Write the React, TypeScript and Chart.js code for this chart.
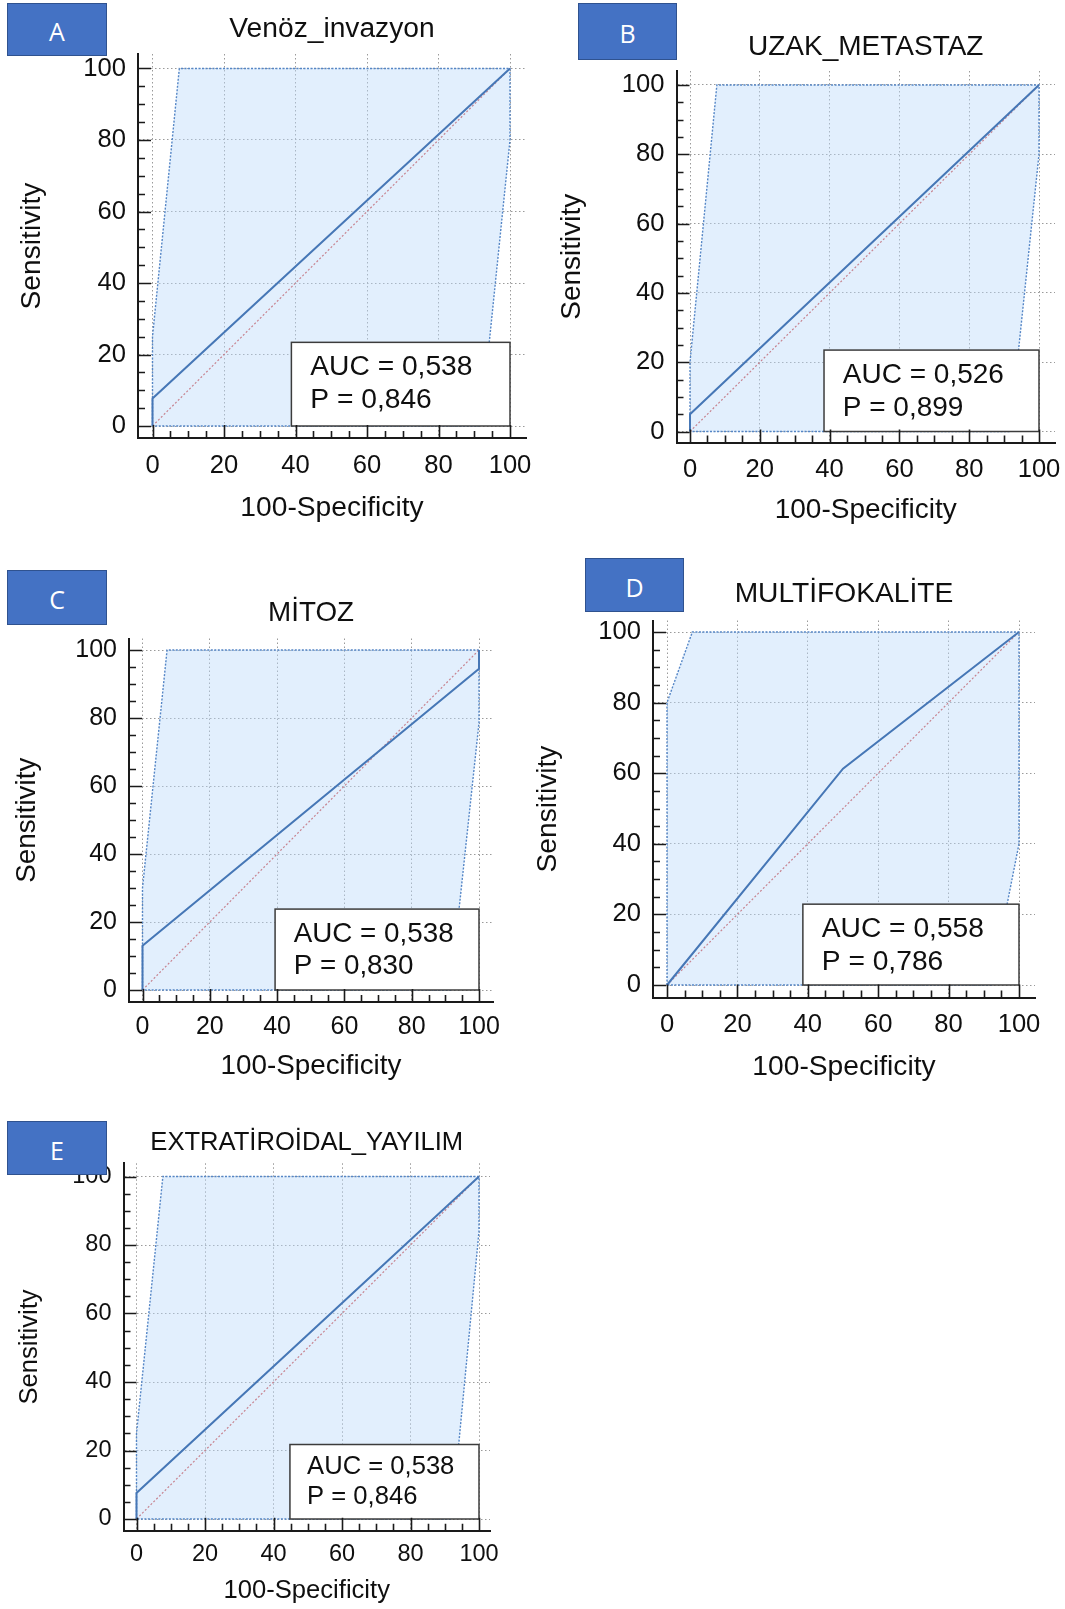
import React, { useEffect, useRef } from 'react';
import { Chart, registerables } from 'chart.js';

Chart.register(...registerables);

// ---------- data ----------
const xTickValues = [0, 20, 40, 60, 80, 100];
const yTickValues = [0, 20, 40, 60, 80, 100];
const xAxisTitle = '100-Specificity';
const yAxisTitle = 'Sensitivity';

const panelLetters = ['A', 'B', 'C', 'D', 'E'];
const panelTitles = ['Venöz_invazyon', 'UZAK_METASTAZ', 'MİTOZ', 'MULTİFOKALİTE', 'EXTRATİROİDAL_YAYILIM'];
const aucValues = ['0,538', '0,526', '0,538', '0,558', '0,538'];
const pValues = ['0,846', '0,899', '0,830', '0,786', '0,846'];

// ROC curves (x = 100-Specificity, y = Sensitivity)
const rocA_x = [0, 0, 100];
const rocA_y = [0, 7.7, 100];
const rocB_x = [0, 0, 100];
const rocB_y = [0, 5, 100];
const rocC_x = [0, 0, 100, 100];
const rocC_y = [0, 13, 94.5, 100];
const rocD_x = [0, 50, 100];
const rocD_y = [0, 61.3, 100];
const rocE_x = [0, 0, 100];
const rocE_y = [0, 7.6, 100];

// 95% confidence bands (closed outline: upper bound, then lower bound back)
const ciA_x = [0, 0, 7.5, 100, 100, 91.8, 0];
const ciA_y = [0, 25, 100, 100, 80, 0, 0];
const ciB_x = [0, 0, 7.7, 100, 100, 91.7, 0];
const ciB_y = [0, 20, 100, 100, 80, 0, 0];
const ciC_x = [0, 0, 7.3, 100, 100, 91.5, 0];
const ciC_y = [0, 30, 100, 100, 78.6, 0, 0];
const ciD_x = [0, 0, 7.2, 100, 100, 92.1, 0];
const ciD_y = [0, 80, 100, 100, 40, 0, 0];
const ciE_x = [0, 0, 7.7, 100, 100, 92, 0];
const ciE_y = [0, 25, 100, 100, 84, 0, 0];

// reference diagonal
const diagX = [0, 100];
const diagY = [0, 100];

// ---------- layout (pixels on page) ----------
type Lay = {
  L: number; T: number; R: number; B: number;
  x0: number; x100: number; y0: number; y100: number;
  titleY: number; yTitleX: number; xTitleY: number; xPad: number;
  fs: number; ts: number; boxLeft: number; boxTop: number;
  tag: { left: number; top: number; w: number; h: number };
};

const layouts: Lay[] = [
  { L: 138, T: 54, R: 526, B: 438, x0: 152.5, x100: 510, y0: 426, y100: 68.5, titleY: 29, yTitleX: 32, xTitleY: 508, xPad: 12.5, fs: 25.6, ts: 28.2, boxLeft: 38.85, boxTop: 23.4, tag: { left: 7, top: 3, w: 100, h: 53 } },
  { L: 676.5, T: 71, R: 1055, B: 442.5, x0: 690, x100: 1039, y0: 431.5, y100: 85, titleY: 47, yTitleX: 572, xTitleY: 510, xPad: 12.5, fs: 25.6, ts: 28, boxLeft: 38.4, boxTop: 23.5, tag: { left: 578, top: 3, w: 99, h: 57 } },
  { L: 129, T: 638.5, R: 493, B: 1002, x0: 142.5, x100: 479, y0: 990, y100: 650, titleY: 613.5, yTitleX: 28.5, xTitleY: 1066.5, xPad: 10.5, fs: 25, ts: 27.8, boxLeft: 39.4, boxTop: 23.8, tag: { left: 7, top: 570, w: 100, h: 55 } },
  { L: 653, T: 620.5, R: 1035, B: 997.5, x0: 667, x100: 1019, y0: 985, y100: 632, titleY: 594.5, yTitleX: 548.5, xTitleY: 1067, xPad: 12.5, fs: 25.6, ts: 28.2, boxLeft: 38.6, boxTop: 22.9, tag: { left: 585, top: 558, w: 99, h: 54 } },
  { L: 123.5, T: 1163.3, R: 490, B: 1530.7, x0: 136.5, x100: 479, y0: 1519, y100: 1176.5, titleY: 1143, yTitleX: 31, xTitleY: 1591, xPad: 9.5, fs: 23.5, ts: 25.6, boxLeft: 44.8, boxTop: 21.75, tag: { left: 7, top: 1121, w: 100, h: 54 } },
];

const rocXs = [rocA_x, rocB_x, rocC_x, rocD_x, rocE_x];
const rocYs = [rocA_y, rocB_y, rocC_y, rocD_y, rocE_y];
const ciXs = [ciA_x, ciB_x, ciC_x, ciD_x, ciE_x];
const ciYs = [ciA_y, ciB_y, ciC_y, ciD_y, ciE_y];

const FAMILY = '"Liberation Sans", Arial, Helvetica, sans-serif';
const TEXT = '#0f0f0f';

const pts = (xs: number[], ys: number[]) => xs.map((x, i) => ({ x, y: ys[i] }));

function RocPanel({ idx }: { idx: number }) {
  const ref = useRef<HTMLCanvasElement | null>(null);
  const lay = layouts[idx];
  const lhT = lay.ts * 1.2;
  const cx = Math.floor(lay.yTitleX - 4 - lhT / 2);
  const cy = Math.floor(lay.titleY - lhT / 2 - 2);
  const W = lay.L - cx;
  const pt = lay.titleY - lhT / 2 - cy;
  const pb = lay.T - cy - pt - lhT;
  const H = lay.xTitleY + lhT / 2 + 4 - lay.B;
  const pr = 24;
  const ch = Math.ceil(lay.B + H - cy) + 1;
  const cw = Math.ceil(lay.R + pr - cx);
  const padBottom = ch - (lay.B + H - cy);
  const padRight = cw - (lay.R - cx);
  const ux = (lay.x100 - lay.x0) / 100;
  const uy = (lay.y0 - lay.y100) / 100;
  const xmin = (lay.L - lay.x0) / ux;
  const xmax = (lay.R - lay.x0) / ux;
  const ymin = -(lay.B - lay.y0) / uy;
  const ymax = (lay.y0 - lay.T) / uy;

  useEffect(() => {
    if (!ref.current) return;
    const decor = {
      id: 'decor' + idx,
      afterDatasetsDraw(chart: any) {
        const { ctx, chartArea, scales } = chart;
        const x = scales.x;
        const y = scales.y;
        ctx.save();
        // AUC box
        const bx0 = x.getPixelForValue(lay.boxLeft);
        const bx1 = x.getPixelForValue(100);
        const by0 = y.getPixelForValue(lay.boxTop);
        const by1 = y.getPixelForValue(0);
        ctx.fillStyle = '#ffffff';
        ctx.fillRect(bx0, by0, bx1 - bx0, by1 - by0);
        ctx.strokeStyle = '#3c3c3c';
        ctx.lineWidth = 1.5;
        ctx.strokeRect(bx0, by0, bx1 - bx0, by1 - by0);
        ctx.fillStyle = TEXT;
        ctx.font = `${lay.ts}px ${FAMILY}`;
        ctx.textAlign = 'left';
        ctx.textBaseline = 'alphabetic';
        ctx.fillText('AUC = ' + aucValues[idx], bx0 + 0.67 * lay.ts, by0 + 1.17 * lay.ts);
        ctx.fillText('P = ' + pValues[idx], bx0 + 0.67 * lay.ts, by0 + 2.34 * lay.ts);
        // inward tick marks (major every 20, minor every 5)
        ctx.strokeStyle = '#1a1a1a';
        ctx.lineWidth = 1.6;
        ctx.beginPath();
        for (let v = 0; v <= 100; v += 5) {
          const len = v % 20 === 0 ? 13 : 7;
          const py = Math.round(y.getPixelForValue(v)) + 0.5;
          ctx.moveTo(chartArea.left, py);
          ctx.lineTo(chartArea.left + len, py);
          const px = Math.round(x.getPixelForValue(v)) + 0.5;
          ctx.moveTo(px, chartArea.bottom);
          ctx.lineTo(px, chartArea.bottom - len);
        }
        ctx.stroke();
        ctx.restore();
      },
    };

    const chart = new Chart(ref.current, {
      type: 'line',
      data: {
        datasets: [
          {
            data: pts(rocXs[idx], rocYs[idx]),
            borderColor: '#4677B6',
            borderWidth: 2,
            pointRadius: 0,
            fill: false,
            tension: 0,
            order: 1,
          },
          {
            data: pts(diagX, diagY),
            borderColor: 'rgba(196,120,132,0.9)',
            borderWidth: 1.2,
            borderDash: [2, 2],
            pointRadius: 0,
            fill: false,
            order: 2,
          },
          {
            data: pts(ciXs[idx], ciYs[idx]),
            borderColor: '#5586C6',
            borderWidth: 1.4,
            borderDash: [2, 1.5],
            backgroundColor: 'rgba(188,218,250,0.44)',
            pointRadius: 0,
            fill: 'shape',
            tension: 0,
            order: 3,
          },
        ],
      } as any,
      options: {
        animation: false,
        responsive: false,
        maintainAspectRatio: false,
        devicePixelRatio: 1,
        layout: { padding: { left: 0, top: 0, right: padRight, bottom: padBottom } },
        plugins: {
          legend: { display: false },
          tooltip: { enabled: false },
          title: {
            display: true,
            text: panelTitles[idx],
            color: TEXT,
            font: { family: FAMILY, size: lay.ts, weight: 'normal' },
            padding: { top: pt, bottom: pb },
            fullSize: false,
          },
        },
        scales: {
          x: {
            type: 'linear',
            min: xmin,
            max: xmax,
            afterBuildTicks: (s: any) => {
              s.ticks = xTickValues.map((v) => ({ value: v }));
            },
            afterFit: (s: any) => {
              s.height = H;
            },
            ticks: {
              autoSkip: false,
              maxRotation: 0,
              minRotation: 0,
              padding: lay.xPad,
              color: TEXT,
              font: { family: FAMILY, size: lay.fs },
              callback: (v: any) => String(v),
            },
            grid: { color: '#9a9a9a', lineWidth: 1, drawTicks: false },
            border: { display: true, color: '#1a1a1a', width: 2, dash: [1.5, 2.5] },
            title: {
              display: true,
              text: xAxisTitle,
              color: TEXT,
              font: { family: FAMILY, size: lay.ts },
              padding: { top: 4, bottom: 4 },
            },
          },
          y: {
            type: 'linear',
            min: ymin,
            max: ymax,
            afterBuildTicks: (s: any) => {
              s.ticks = yTickValues.map((v) => ({ value: v }));
            },
            afterFit: (s: any) => {
              s.width = W;
            },
            ticks: {
              autoSkip: false,
              padding: 12,
              color: TEXT,
              font: { family: FAMILY, size: lay.fs },
              callback: (v: any) => String(v),
            },
            grid: { color: '#9a9a9a', lineWidth: 1, drawTicks: false },
            border: { display: true, color: '#1a1a1a', width: 2, dash: [1.5, 2.5] },
            title: {
              display: true,
              text: yAxisTitle,
              color: TEXT,
              font: { family: FAMILY, size: lay.ts },
              padding: { top: 4, bottom: 4 },
            },
          },
        },
      } as any,
      plugins: [decor],
    });
    return () => chart.destroy();
  }, [idx]);

  return (
    <>
      <canvas
        ref={ref}
        width={cw}
        height={ch}
        style={{ position: 'absolute', left: cx, top: cy, width: cw, height: ch }}
      />
      <div
        style={{
          position: 'absolute',
          left: lay.tag.left,
          top: lay.tag.top,
          width: lay.tag.w,
          height: lay.tag.h,
          boxSizing: 'border-box',
          background: '#4472C4',
          border: '1.5px solid #2F528F',
          color: '#ffffff',
          fontFamily: '"Open Sans", "Noto Sans", sans-serif',
          fontSize: 25,
          lineHeight: 1,
          display: 'flex',
          alignItems: 'center',
          justifyContent: 'center',
          paddingTop: 4,
          zIndex: 2,
        }}
      >
        {panelLetters[idx]}
      </div>
    </>
  );
}

export default function App() {
  useEffect(() => {
    document.body.style.margin = '0';
  }, []);
  return (
    <div
      style={{
        position: 'absolute',
        left: 0,
        top: 0,
        width: 1065,
        height: 1609,
        overflow: 'hidden',
        background: '#ffffff',
      }}
    >
      {layouts.map((_, i) => (
        <RocPanel key={i} idx={i} />
      ))}
    </div>
  );
}
